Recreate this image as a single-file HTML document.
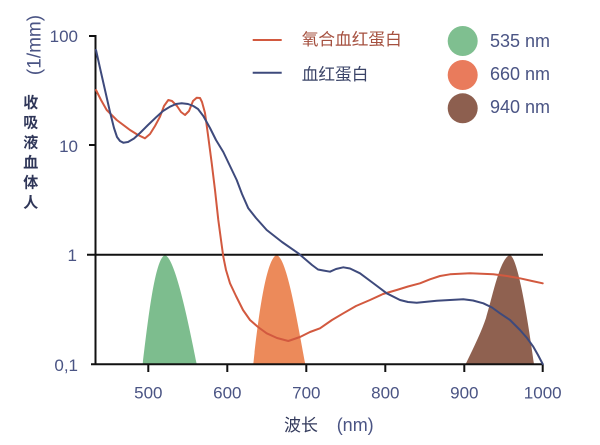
<!DOCTYPE html>
<html>
<head>
<meta charset="utf-8">
<style>
html,body{margin:0;padding:0;background:#fff;}
svg{display:block;}
.num{font-family:"Liberation Sans","Noto Sans CJK SC",sans-serif;fill:#4a5484;}
.cjk{font-family:"Liberation Sans","Noto Sans CJK SC",sans-serif;}
</style>
</head>
<body>
<svg width="600" height="445" viewBox="0 0 600 445" xmlns="http://www.w3.org/2000/svg">
<rect width="600" height="445" fill="#fff"/>

<!-- emission peaks -->
<path d="M142.7,364 C148,320 155,258 165,255 C175,258 188,320 196.7,364 Z" fill="#7dbd8e"/>
<path d="M253.3,364 C258,320 266,258 276.7,255 C287,258 297,320 305.3,364 Z" fill="#ec8a5a"/>
<path d="M465.7,364 C475,345 482,330 486,318 C493,295 500,258 510,255 C518,258 528,320 534,364 Z" fill="#8f6150"/>

<!-- axes -->
<line x1="95.5" y1="35" x2="95.5" y2="365" stroke="#111" stroke-width="2"/>
<line x1="89" y1="36" x2="95.5" y2="36" stroke="#111" stroke-width="2"/>
<line x1="89" y1="145" x2="95.5" y2="145" stroke="#111" stroke-width="2"/>
<line x1="87" y1="254.7" x2="543" y2="254.7" stroke="#111" stroke-width="2"/>
<line x1="91" y1="364.3" x2="543" y2="364.3" stroke="#111" stroke-width="2"/>
<g stroke="#111" stroke-width="2">
<line x1="148.3" y1="364" x2="148.3" y2="372"/>
<line x1="227.3" y1="364" x2="227.3" y2="372"/>
<line x1="306.3" y1="364" x2="306.3" y2="372"/>
<line x1="385.3" y1="364" x2="385.3" y2="372"/>
<line x1="464.3" y1="364" x2="464.3" y2="372"/>
<line x1="542.7" y1="364" x2="542.7" y2="372"/>
</g>

<!-- oxyhemoglobin (red) -->
<polyline fill="none" stroke="#d2593f" stroke-width="2" stroke-linejoin="round" stroke-linecap="round"
points="96,90 101,100 106.7,110 116.7,120 130,130 138,135 145,138.3 150,134 155,126 160,116.7 164,106 168.3,100 172,101 177,106 181,112 185,115 189,111 193,101 196.7,97.7 200,98 202,102 205,113 208,135 211.7,163 215,190 218.3,220 221,240 223.3,256.7 226,270 230,283.3 236,296 243,310 250,320 258,327 266.7,333.3 277,338 288.3,341 300,337 310,332 320,328.3 332,320 343.3,313.3 356,306 370,300 383,294 396.7,290 408,286.5 420,283.3 430,279.3 440,276 450,274.3 470,273.3 493.3,274.3 507,276 520,278.3 532,281 542.7,283.3"/>

<!-- hemoglobin (blue) -->
<polyline fill="none" stroke="#3e4a7c" stroke-width="2" stroke-linejoin="round" stroke-linecap="round"
points="96,50 100,68 105,90 110,112 114,128 117,137 120,141 123.3,142.7 128,142 134,138.5 140,133 148,125 156.7,116.7 163,111 170,106.7 176,104 181.7,103.3 188,104 193.3,106 198,109 203.3,116 210,128 216,140 223.3,152 230,166 236.7,180 242,194 248.3,208.3 256,218 266.7,230 282,242 298.3,253.3 305,259 312,265 318,269.5 323.3,270.5 330,271.7 336,269 343.3,267.3 350,268.5 360,273.3 373,283 386.7,293.3 400,300 408,302 416.7,302.7 436.7,300.7 463.3,299.3 473,300.5 483.3,303.3 492,307.5 500,313.3 510,320 520,330 527,338 533.3,346.7 538,355 542.7,364"/>

<!-- y tick labels -->
<text class="num" x="78" y="42" font-size="17" text-anchor="end">100</text>
<text class="num" x="78" y="152" font-size="17" text-anchor="end">10</text>
<text class="num" x="77" y="261" font-size="17" text-anchor="end">1</text>
<text class="num" x="78" y="371" font-size="17" text-anchor="end">0,1</text>

<!-- x tick labels -->
<g class="num" font-size="17" text-anchor="middle">
<text x="148.3" y="398.5">500</text>
<text x="227.3" y="398.5">600</text>
<text x="306.3" y="398.5">700</text>
<text x="385.3" y="398.5">800</text>
<text x="464.3" y="398.5">900</text>
<text x="542.7" y="398.5">1000</text>
</g>

<!-- axis titles -->
<text class="num" font-size="19" text-anchor="middle" transform="translate(40.5,45) rotate(-90)">(1/mm)</text>
<g class="cjk" font-size="15" font-weight="bold" fill="#2f3658" text-anchor="middle">
<text x="30.7" y="107.5">收</text>
<text x="30.7" y="127.5">吸</text>
<text x="30.7" y="147.5">液</text>
<text x="30.7" y="167.5">血</text>
<text x="30.7" y="187.5">体</text>
<text x="30.7" y="207.5">人</text>
</g>
<text class="cjk" x="284" y="431" font-size="17" fill="#333a5c">波长</text>
<text class="num" x="336.7" y="431" font-size="18">(nm)</text>

<!-- legend -->
<line x1="252.7" y1="40" x2="281.7" y2="40" stroke="#d2593f" stroke-width="2"/>
<line x1="252.7" y1="72.7" x2="281.7" y2="72.7" stroke="#3e4a7c" stroke-width="2"/>
<text class="cjk" x="301.7" y="44.8" font-size="16.7" fill="#a5503f">氧合血红蛋白</text>
<text class="cjk" x="301.7" y="79.8" font-size="16.7" fill="#3b4468">血红蛋白</text>

<circle cx="462.7" cy="41" r="15" fill="#7fbf90"/>
<circle cx="462.7" cy="75" r="15" fill="#e97b5c"/>
<circle cx="462.7" cy="108.3" r="15" fill="#8d5f4f"/>
<text class="num" x="490" y="47" font-size="18">535 nm</text>
<text class="num" x="490" y="80" font-size="18">660 nm</text>
<text class="num" x="490" y="113" font-size="18">940 nm</text>
</svg>
</body>
</html>
